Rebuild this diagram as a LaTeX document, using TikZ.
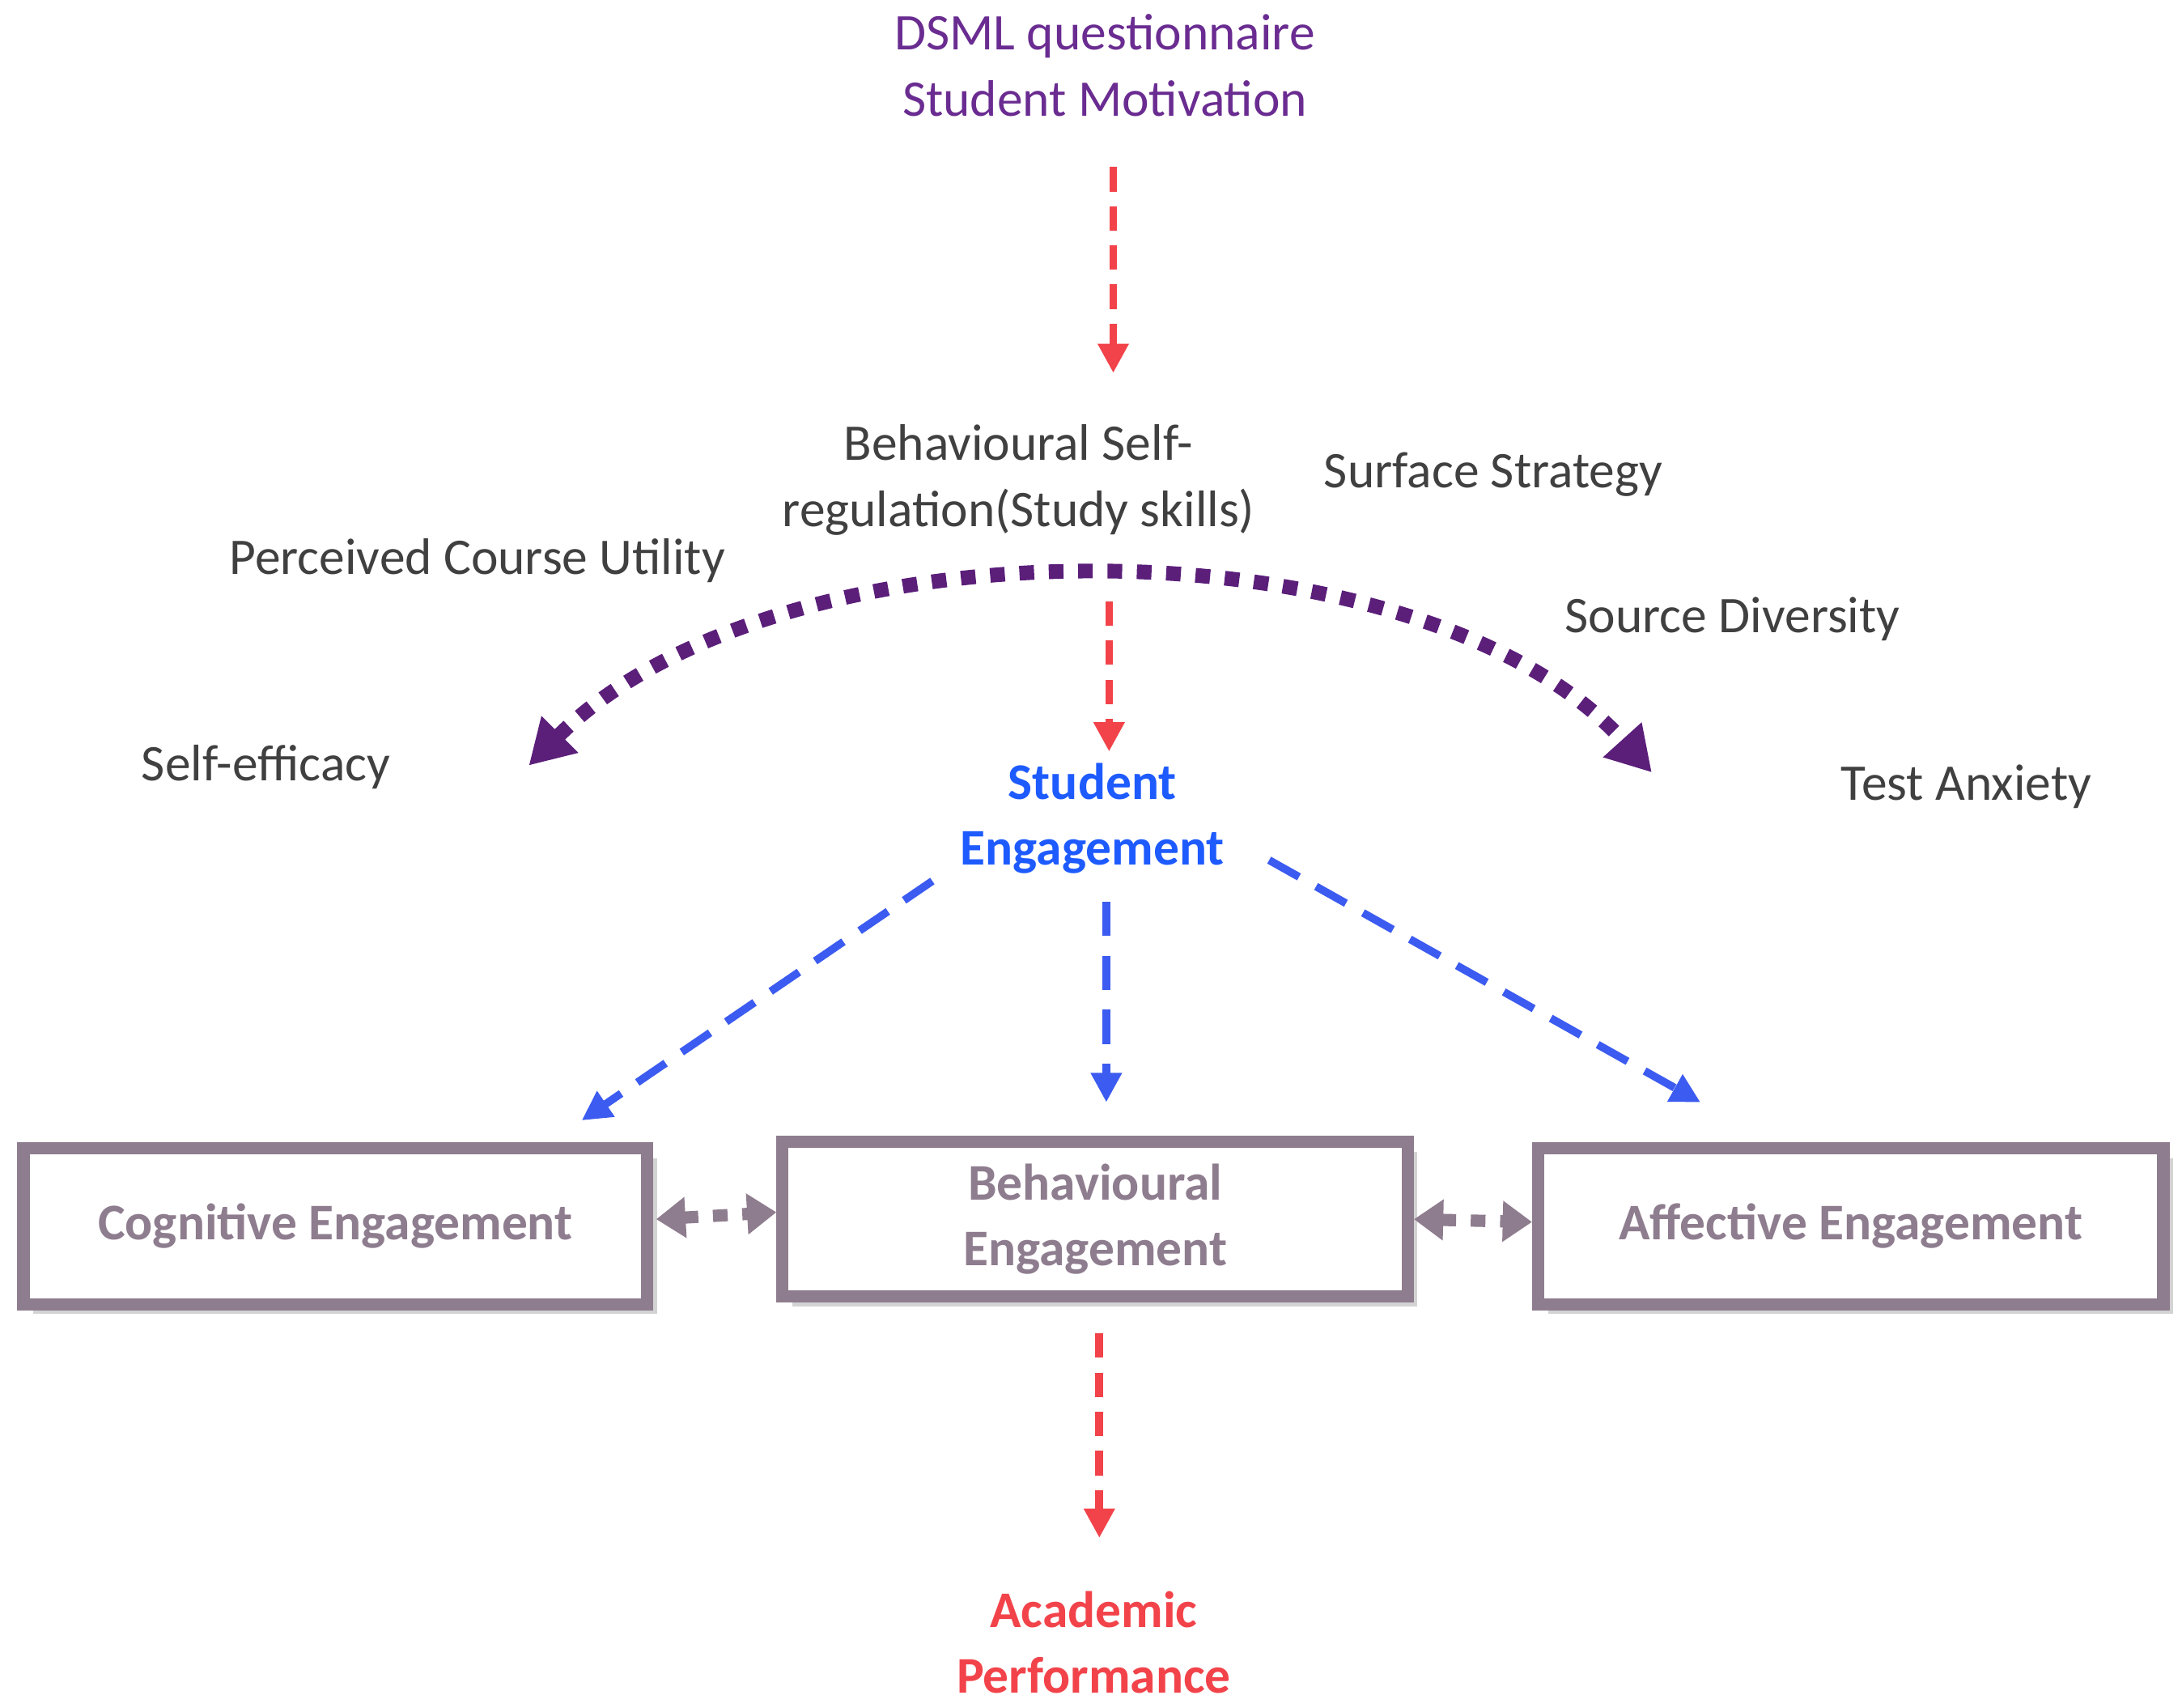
\documentclass[tikz,border=0pt]{standalone}
\usepackage{fontspec}
\setmainfont{Carlito}
\usetikzlibrary{arrows.meta,shadows}
\definecolor{dpurple}{HTML}{6A2C91}
\definecolor{arcp}{HTML}{5B1F7A}
\definecolor{eblue}{HTML}{1E5BFF}
\definecolor{ablue}{HTML}{3C5BF0}
\definecolor{ered}{HTML}{F2434A}
\definecolor{bgray}{HTML}{8E7D8E}
\definecolor{tgray}{HTML}{404040}
\begin{document}
\begin{tikzpicture}[x=0.01cm,y=-0.01cm,font=\fontsize{10.5}{13.5}\selectfont,
 lbl/.style={text=tgray,align=center},
 rarr/.style={ered,dashed,line width=1.6pt,dash pattern=on 5pt off 3pt,-{Triangle[length=6pt,width=6pt]}},
 barr/.style={ablue,line width=1.6pt,dash pattern=on 7pt off 4pt,-{Triangle[length=6pt,width=6pt]}},
 gbox/.style={draw=bgray,line width=2.5pt,fill=white,drop shadow={opacity=0.35,shadow xshift=2pt,shadow yshift=-2pt},minimum width=448\pgflinewidth,text=bgray,font=\fontsize{10.5}{13.5}\selectfont\bfseries,align=center},
 garr/.style={bgray,line width=2.5pt,dash pattern=on 3pt off 3pt,{Triangle[length=6pt,width=8pt]}-{Triangle[length=6pt,width=8pt]}}]
\useasboundingbox (0,0) rectangle (1568,1227);
\node[text=dpurple,align=center] (dsml) at (794,47) {DSML questionnaire\\Student Motivation};
\node[lbl] (bsr) at (732,345) {Behavioural Self-\\regulation(Study skills)};
\node[lbl] (ss) at (1073,341) {Surface Strategy};
\node[lbl] (pcu) at (343,403) {Perceived Course Utility};
\node[lbl] (sd) at (1245,445) {Source Diversity};
\node[lbl] (se) at (191,551) {Self-efficacy};
\node[lbl] (ta) at (1413,565) {Test Anxiety};
\node[text=eblue,font=\fontsize{10.5}{13.5}\selectfont\bfseries,align=center] (eng) at (785,588) {Student\\Engagement};
\node[text=ered,font=\fontsize{10.5}{13.5}\selectfont\bfseries,align=center] (ap) at (786,1180) {Academic\\Performance};
\node[gbox,minimum width=4.48cm,minimum height=1.12cm] (cog) at (241,881) {Cognitive Engagement};
\node[gbox,minimum width=4.49cm,minimum height=1.11cm] (beh) at (787,876) {Behavioural\\Engagement};
\node[gbox,minimum width=4.49cm,minimum height=1.12cm] (aff) at (1330,881) {Affective Engagement};
\coordinate (a1) at (800,120); \coordinate (a2) at (800,268);
\draw[rarr] (a1) -- (a2);
\coordinate (b1) at (797,432); \coordinate (b2) at (797,540);
\draw[rarr] (b1) -- (b2);
\coordinate (c1) at (790,958); \coordinate (c2) at (790,1105);
\draw[rarr] (c1) -- (c2);
\coordinate (l1) at (380,550); \coordinate (l2) at (1187,555);
\draw[arcp,line width=3pt,dash pattern=on 3pt off 3pt,{Triangle[length=9pt,width=10pt]}-{Triangle[length=9pt,width=10pt]}] (l1) .. controls (560,370) and (1020,370) .. (l2);
\coordinate (e1) at (670,633); \coordinate (e2) at (418,805);
\coordinate (f1) at (795,648); \coordinate (f2) at (795,792);
\coordinate (g1) at (912,618); \coordinate (g2) at (1222,792);
\draw[barr] (e1) -- (e2);
\draw[barr] (f1) -- (f2);
\draw[barr] (g1) -- (g2);
\draw[garr] (cog.east) ++(2,-5) -- ([yshift=0.05cm]beh.west);
\draw[garr] (beh.east) -- ([yshift=0.03cm]aff.west);
\end{tikzpicture}
\end{document}
